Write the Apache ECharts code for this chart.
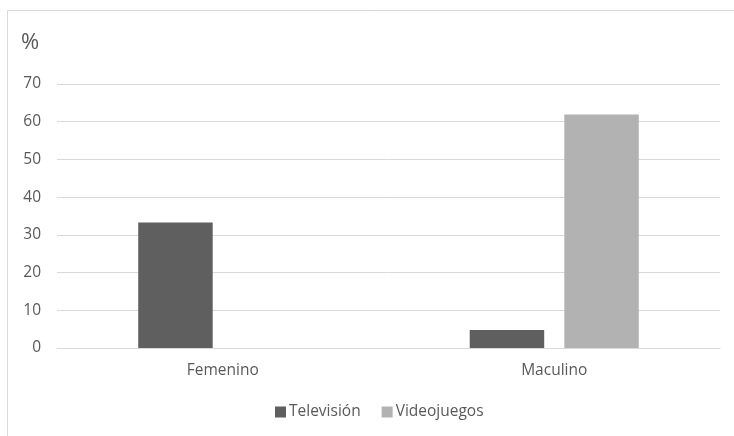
<!DOCTYPE html>
<html><head><meta charset="utf-8">
<script src="https://cdn.jsdelivr.net/npm/echarts@6/dist/echarts.min.js"></script>
<style>html,body{margin:0;padding:0;background:#fff}#c{width:734px;height:436px}</style>
</head><body><div id="c"></div>
<script>
var categories = ['Femenino', 'Maculino'];
var television = [33.3, 4.8];
var videojuegos = [0, 61.9];
var yTicks = [0, 70, 10];
var font = '"Open Sans", "Liberation Sans", sans-serif';
var chart = echarts.init(document.getElementById('c'));
chart.setOption({
  animation: false,
  graphic: [{type:'rect', shape:{x:7.5,y:10.5,width:800,height:600}, style:{fill:'none',stroke:'#d9d9d9',lineWidth:1}, silent:true},
            {type:'text', left:21, top:32, style:{text:'%', font:'22px '+font, fill:'#595959'}}],
  grid: {left:57, right:14, top:84, bottom:88},
  legend: {data:['Televisión','Videojuegos'], bottom:11, left:270, icon:'rect', itemWidth:11, itemHeight:11, itemGap:21,
           textStyle:{color:'#595959', fontSize:15.5, fontFamily:font, padding:[0,0,0,-2]}},
  xAxis: {type:'category', data:categories, axisLine:{lineStyle:{color:'#d9d9d9'}}, axisTick:{show:false},
          axisLabel:{color:'#595959', fontSize:15.5, fontFamily:font, margin:15}},
  yAxis: {type:'value', min:yTicks[0], max:yTicks[1], interval:yTicks[2], axisLine:{show:false}, axisTick:{show:false},
          splitLine:{lineStyle:{color:'#d9d9d9'}}, axisLabel:{color:'#595959', fontSize:15.5, fontFamily:font, margin:16}},
  series: [
    {name:'Televisión', type:'bar', data:television, itemStyle:{color:'#5f5f5f'}, barGap:'27%', barCategoryGap:'49%'},
    {name:'Videojuegos', type:'bar', data:videojuegos, itemStyle:{color:'#b2b2b2'}}
  ]
});
</script></body></html>
